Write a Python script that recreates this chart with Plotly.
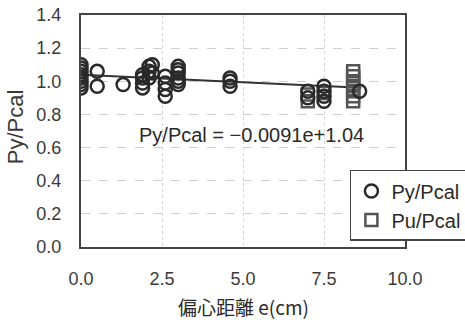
import plotly.graph_objects as go

# Py/Pcal data (open circles)
py_x = [0, 0, 0, 0, 0, 0, 0, 0, 0.5, 0.5, 1.3,
        1.9, 1.9, 1.9, 1.9, 2.1, 2.1, 2.1, 2.2, 2.2,
        2.6, 2.6, 2.6, 2.6, 3.0, 3.0, 3.0, 3.0, 3.0, 3.0,
        4.6, 4.6, 4.6, 7.0, 7.0, 7.5, 7.5, 7.5, 7.5, 8.6]
py_y = [0.96, 0.98, 1.0, 1.02, 1.04, 1.06, 1.08, 1.10, 1.06, 0.97, 0.98,
        0.96, 0.99, 1.02, 1.04, 1.02, 1.06, 1.09, 1.10, 1.05,
        0.91, 0.95, 0.99, 1.03, 0.98, 1.00, 1.02, 1.05, 1.07, 1.09,
        0.97, 1.00, 1.02, 0.94, 0.90, 0.97, 0.94, 0.91, 0.88, 0.94]

# Pu/Pcal data (open squares)
pu_x = [7.0, 7.0, 7.5, 8.4, 8.4, 8.4, 8.4, 8.4, 8.4, 8.4]
pu_y = [0.92, 0.88, 0.93, 1.06, 1.03, 1.00, 0.97, 0.94, 0.91, 0.88]

# Trendline: Py/Pcal = -0.0091e + 1.04
trend_slope = -0.0091
trend_intercept = 1.04
trend_x = [0, 8.65]
trend_y = [trend_intercept + trend_slope * x for x in trend_x]

x_ticks = [0, 2.5, 5.0, 7.5, 10.0]
x_ticklabels = ["0.0", "2.5", "5.0", "7.5", "10.0"]
y_ticks = [0.0, 0.2, 0.4, 0.6, 0.8, 1.0, 1.2, 1.4]
y_ticklabels = ["0.0", "0.2", "0.4", "0.6", "0.8", "1.0", "1.2", "1.4"]

font_fam = "Liberation Sans, Arial, Noto Sans CJK JP, sans-serif"
txt = "#3a3a3a"

fig = go.Figure()
fig.add_trace(go.Scatter(x=trend_x, y=trend_y, mode="lines",
                         line=dict(color="#333333", width=2), showlegend=False,
                         hoverinfo="skip"))
fig.add_trace(go.Scatter(x=pu_x, y=pu_y, mode="markers", name="Pu/Pcal",
                         marker=dict(symbol="square-open", size=12,
                                     color="#555555", line=dict(width=2.5))))
fig.add_trace(go.Scatter(x=py_x, y=py_y, mode="markers", name="Py/Pcal",
                         marker=dict(symbol="circle-open", size=13,
                                     color="#2a2a2a", line=dict(width=2.5))))

fig.add_annotation(x=5.25, y=0.676, xref="x", yref="y", showarrow=False,
                   text="Py/Pcal = \u22120.0091e+1.04",
                   font=dict(size=20, color="#2a2a2a", family=font_fam))

# axis titles
fig.add_annotation(x=0.5, y=-0.255, xref="paper", yref="paper", showarrow=False,
                   text="偏心距離 e(cm)", xanchor="center", yanchor="middle",
                   font=dict(size=19, color="#2a2a2a",
                             family="Noto Sans CJK JP, sans-serif"))
fig.add_annotation(x=-0.203, y=0.517, xref="paper", yref="paper", showarrow=False,
                   text="Py/Pcal", textangle=-90, xanchor="center", yanchor="middle",
                   font=dict(size=22, color=txt, family=font_fam))

fig.update_layout(
    width=465, height=320,
    margin=dict(l=81, r=60, t=15, b=73, autoexpand=False),
    paper_bgcolor="white", plot_bgcolor="white",
    font=dict(family=font_fam, color=txt, size=14),
    legend=dict(x=0.83, y=0.332, xanchor="left", yanchor="top",
                bgcolor="white", bordercolor="#444444", borderwidth=1.5,
                traceorder="reversed",
                font=dict(size=20, color="#2a2a2a"),
                itemwidth=30, tracegroupgap=0),
    xaxis=dict(range=[0, 10], tickvals=x_ticks, ticktext=x_ticklabels,
               showline=True, linecolor="#444444", linewidth=2, mirror=True,
               showgrid=True, gridcolor="#d4d4d4", griddash="dot", gridwidth=1,
               zeroline=False, ticks="", ticklen=0, ticklabelstandoff=14,
               automargin=False,
               tickfont=dict(size=18, color=txt)),
    yaxis=dict(range=[0, 1.4], tickvals=y_ticks, ticktext=y_ticklabels,
               showline=True, linecolor="#444444", linewidth=2, mirror=True,
               showgrid=True, gridcolor="#cfcfcf", griddash="dash", gridwidth=1,
               zeroline=False, ticks="", ticklen=0, ticklabelstandoff=14,
               automargin=False,
               tickfont=dict(size=18, color=txt)),
)

fig.write_html("out.html", config={"displayModeBar": False},
               post_script="document.body.style.margin='0';document.body.style.overflow='hidden';")
